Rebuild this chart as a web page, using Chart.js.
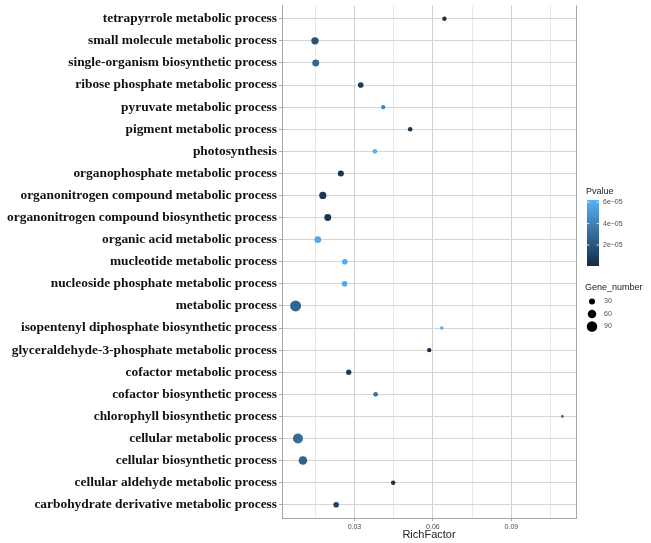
<!DOCTYPE html>
<html>
<head>
<meta charset="utf-8">
<script src="https://cdn.jsdelivr.net/npm/chart.js@4"></script>
<style>
    body { margin: 0; background: #fff; }
    #wrap { width: 651px; height: 543px; }
</style>
</head>
<body>
<div id="wrap"><canvas id="Chart" width="651" height="543"></canvas></div>
<script>
// GO terms, top to bottom as in the figure
const categories = [
    'tetrapyrrole metabolic process',
    'small molecule metabolic process',
    'single-organism biosynthetic process',
    'ribose phosphate metabolic process',
    'pyruvate metabolic process',
    'pigment metabolic process',
    'photosynthesis',
    'organophosphate metabolic process',
    'organonitrogen compound metabolic process',
    'organonitrogen compound biosynthetic process',
    'organic acid metabolic process',
    'mucleotide metabolic process',
    'nucleoside phosphate metabolic process',
    'metabolic process',
    'isopentenyl diphosphate biosynthetic process',
    'glyceraldehyde-3-phosphate metabolic process',
    'cofactor metabolic process',
    'cofactor biosynthetic process',
    'chlorophyll biosynthetic process',
    'cellular metabolic process',
    'cellular biosynthetic process',
    'cellular aldehyde metabolic process',
    'carbohydrate derivative metabolic process'
];
const richFactor = [0.0644, 0.0149, 0.0152, 0.0324, 0.0410, 0.0513, 0.0378, 0.0248, 0.0179, 0.0198,
    0.0160, 0.0263, 0.0262, 0.0075, 0.0634, 0.0586, 0.0278, 0.0381, 0.1095, 0.0084, 0.0103, 0.0448, 0.0230];
const geneNumber = [16, 45, 40, 26, 16, 17, 19, 30, 43, 40,
    36, 26, 26, 100, 11, 16, 24, 18, 7, 83, 61, 17, 26];
const pValue = [0.3e-5, 1.9e-5, 2.8e-5, 0.8e-5, 4.3e-5, 0.5e-5, 6.2e-5, 0.5e-5, 0.7e-5, 0.6e-5,
    5.8e-5, 5.9e-5, 5.9e-5, 2.8e-5, 6.0e-5, 0.05e-5, 0.9e-5, 3.3e-5, 3.0e-5, 3.0e-5, 2.6e-5, 0.5e-5, 1.1e-5];

const xMajorTicks = [0.03, 0.06, 0.09];
const xMinorTicks = [0.015, 0.045, 0.075, 0.105];
const pvalueTicks = [2e-5, 4e-5, 6e-5];
const pvalueTickLabels = ['2e\u221205', '4e\u221205', '6e\u221205'];
const sizeLegendValues = [30, 60, 90];

const LOW = [19, 43, 67];     // #132B43
const HIGH = [86, 177, 247];  // #56B1F7
const pMin = Math.min(...pValue);
const pMax = Math.max(...pValue);

function pColor(p) {
    const t = (p - pMin) / (pMax - pMin);
    const c = LOW.map((v, i) => Math.round(v + (HIGH[i] - v) * t));
    return 'rgb(' + c.join(',') + ')';
}
function sizeOf(n) {
    return 0.55 * Math.sqrt(n);
}

const nRows = categories.length;
const points = categories.map((c, i) => ({
    x: richFactor[i],
    y: nRows - 1 - i,
    r: sizeOf(geneNumber[i])
}));

// legend on the right (colour bar + size key)
const legendPlugin = {
    id: 'ggLegend',
    afterDraw(chart) {
        const ctx = chart.ctx;
        const area = chart.chartArea;
        ctx.save();
        // right panel border
        ctx.strokeStyle = '#a6a6a6';
        ctx.lineWidth = 1;
        ctx.beginPath();
        ctx.moveTo(area.right + 0.5, area.top);
        ctx.lineTo(area.right + 0.5, area.bottom);
        ctx.stroke();

        const bx = 587, top = 200, bot = 266, bw = 12;
        ctx.fillStyle = '#1a1a1a';
        ctx.font = '9px "Liberation Sans", Arial, sans-serif';
        ctx.textAlign = 'left';
        ctx.textBaseline = 'middle';
        ctx.fillText('Pvalue', bx - 1, 192);
        const g = ctx.createLinearGradient(0, bot, 0, top);
        g.addColorStop(0, pColor(pMin));
        g.addColorStop(0.5, pColor((pMin + pMax) / 2));
        g.addColorStop(1, pColor(pMax));
        ctx.fillStyle = g;
        ctx.fillRect(bx, top, bw, bot - top);
        ctx.font = '7px "Liberation Sans", Arial, sans-serif';
        pvalueTicks.forEach((v, i) => {
            const y = bot - (v - pMin) / (pMax - pMin) * (bot - top);
            ctx.strokeStyle = 'rgba(255,255,255,0.8)';
            ctx.beginPath();
            ctx.moveTo(bx, y); ctx.lineTo(bx + 2.5, y);
            ctx.moveTo(bx + bw - 2.5, y); ctx.lineTo(bx + bw, y);
            ctx.stroke();
            ctx.fillStyle = '#4d4d4d';
            ctx.fillText(pvalueTickLabels[i], bx + bw + 4, y);
        });

        ctx.fillStyle = '#1a1a1a';
        ctx.font = '9px "Liberation Sans", Arial, sans-serif';
        ctx.fillText('Gene_number', bx - 2, 288);
        ctx.font = '7px "Liberation Sans", Arial, sans-serif';
        sizeLegendValues.forEach((v, i) => {
            const y = 301.5 + i * 12.5;
            ctx.fillStyle = '#000';
            ctx.beginPath();
            ctx.arc(592, y, sizeOf(v), 0, Math.PI * 2);
            ctx.fill();
            ctx.fillStyle = '#4d4d4d';
            ctx.fillText(String(v), 604, y);
        });
        ctx.restore();
    }
};

const ctx = document.getElementById('Chart');
const chart = new Chart(ctx, {
    type: 'bubble',
    data: {
        datasets: [{
            data: points,
            backgroundColor: pValue.map(pColor),
            borderWidth: 0,
            hoverBorderWidth: 0
        }]
    },
    options: {
        responsive: false,
        animation: false,
        devicePixelRatio: 1,
        layout: { padding: { top: 5, right: 75, left: 0, bottom: 0 } },
        plugins: {
            legend: { display: false },
            tooltip: { enabled: false }
        },
        scales: {
            x: {
                type: 'linear',
                min: 0.0023,
                max: 0.1147,
                afterBuildTicks: scale => {
                    scale.ticks = xMajorTicks.concat(xMinorTicks).map(v => ({ value: v }));
                },
                afterFit: scale => {
                    scale.height = 25;
                    scale.paddingLeft = 0;
                    scale.paddingRight = 0;
                },
                ticks: {
                    autoSkip: false,
                    maxRotation: 0,
                    padding: 2,
                    color: '#4d4d4d',
                    font: { size: 7, family: '"Liberation Sans", Arial, sans-serif' },
                    callback: v => xMajorTicks.includes(v) ? String(v) : ''
                },
                grid: {
                    color: c => (c.tick && xMajorTicks.includes(c.tick.value)) ? '#d0d0d0' : '#e8e8e8',
                    tickColor: c => (c.tick && xMajorTicks.includes(c.tick.value)) ? '#a6a6a6' : 'rgba(0,0,0,0)',
                    tickLength: 3,
                    lineWidth: 1
                },
                border: { color: '#a6a6a6' },
                title: {
                    display: true,
                    text: 'RichFactor',
                    color: '#222',
                    font: { size: 11, family: '"Liberation Sans", Arial, sans-serif' },
                    padding: { top: 0, bottom: 1 }
                }
            },
            y: {
                type: 'linear',
                min: -0.6,
                max: nRows - 0.4,
                afterBuildTicks: scale => {
                    scale.ticks = categories.map((c, i) => ({ value: i }));
                },
                afterFit: scale => {
                    scale.width = 282;
                    scale.paddingTop = 0;
                    scale.paddingBottom = 0;
                },
                ticks: {
                    autoSkip: false,
                    padding: 2,
                    color: '#111',
                    font: { size: 13.4, weight: 'bold', family: '"Liberation Serif", "Times New Roman", serif' },
                    callback: v => categories[nRows - 1 - v]
                },
                grid: {
                    color: '#d6d6d6',
                    tickColor: '#a6a6a6',
                    tickLength: 3,
                    lineWidth: 1
                },
                border: { color: '#a6a6a6' }
            }
        }
    },
    plugins: [legendPlugin]
});
</script>
</body>
</html>
